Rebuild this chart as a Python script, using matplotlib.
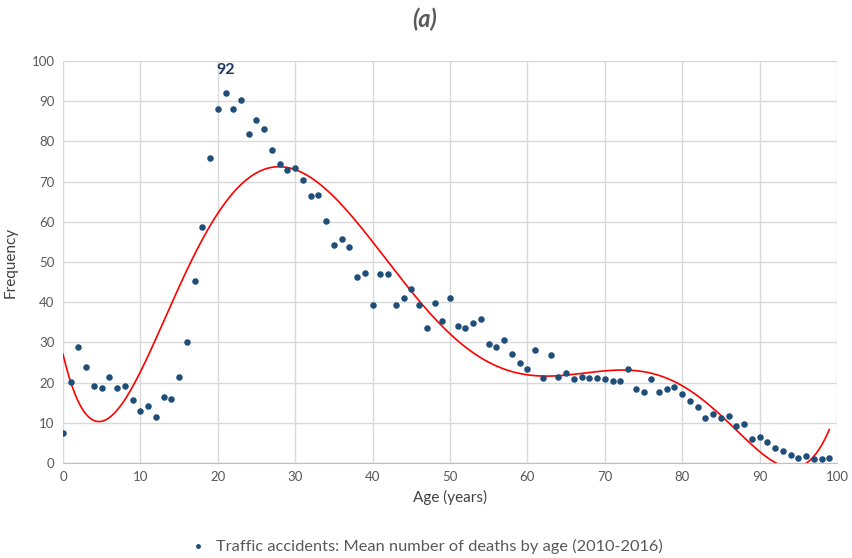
import numpy as np
import matplotlib
matplotlib.use("Agg")
import matplotlib.pyplot as plt

plt.rcParams['font.family'] = ['Lato', 'DejaVu Sans']

ages = list(range(100))
deaths = [7.4, 20.2, 28.9, 24.0, 19.1, 18.6, 21.3, 18.6, 19.1, 15.7,
          13.0, 14.2, 11.5, 16.4, 16.0, 21.3, 30.0, 45.2, 58.8, 75.9,
          88.0, 92.1, 88.0, 90.2, 81.9, 85.3, 83.1, 77.8, 74.4, 72.9,
          73.3, 70.5, 66.3, 66.7, 60.3, 54.2, 55.7, 53.8, 46.2, 47.3,
          39.4, 47.0, 47.0, 39.4, 41.0, 43.2, 39.4, 33.7, 39.8, 35.2,
          41.0, 34.2, 33.7, 34.9, 35.7, 29.6, 28.8, 30.7, 27.2, 25.0,
          23.4, 28.0, 21.2, 26.9, 21.5, 22.4, 20.8, 21.5, 21.2, 21.2,
          20.8, 20.4, 20.4, 23.3, 18.5, 17.7, 20.8, 17.7, 18.5, 18.8,
          17.1, 15.5, 14.0, 11.3, 12.1, 11.3, 11.8, 9.1, 9.8, 6.0,
          6.4, 5.2, 3.7, 2.9, 2.1, 1.3, 1.8, 1.0, 1.0, 1.3]
x_ticks = list(range(0, 101, 10))
y_ticks = list(range(0, 101, 10))
title = "(a)"
legend_label = "Traffic accidents: Mean number of deaths by age (2010-2016)"

fig = plt.figure(figsize=(8.53, 5.58), dpi=100)
ax = fig.add_axes([63/853, 1-463/558, (837-63)/853, (463-61)/558])

ax.scatter(ages, deaths, s=22, color='#1f4e79', zorder=3, label=legend_label,
           linewidths=0)

# 6th order polynomial trendline
coef = np.polyfit(ages, deaths, 6)
xf = np.linspace(min(ages), max(ages), 500)
yf = np.polyval(coef, xf)
ax.plot(xf, yf, color='#ff0000', lw=1.2, zorder=2)

imax = int(np.argmax(deaths))
ax.annotate(f"{deaths[imax]:.0f}", (ages[imax], deaths[imax]), xytext=(0, 11),
            textcoords='offset points', ha='center', va='bottom',
            fontsize=11.5, fontweight='bold', color='#1f3864')

ax.set_xlim(0, 100)
ax.set_ylim(0, 100)
ax.set_xticks(x_ticks)
ax.set_yticks(y_ticks)
ax.grid(True, color='#d9d9d9', lw=1)
ax.set_axisbelow(True)
for s in ['top', 'right', 'left']:
    ax.spines[s].set_visible(False)
ax.spines['bottom'].set_color('#bfbfbf')
ax.tick_params(length=0, labelsize=9.5, labelcolor='#595959', pad=6)
ax.set_xlabel("Age (years)", fontsize=11, color='#404040', labelpad=5)
ax.set_ylabel("Frequency", fontsize=11, color='#404040', labelpad=10)

fig.text(425/853, 1-19/558, title, ha='center', va='center', fontsize=17,
         fontweight='bold', style='italic', color='#595959')

leg = fig.legend(loc='center', bbox_to_anchor=(422/853, 1-546/558), frameon=False,
                 fontsize=11.8, handletextpad=0.1, markerscale=0.75)
for t in leg.get_texts():
    t.set_color('#595959')

fig.savefig("out.png", dpi=100)
